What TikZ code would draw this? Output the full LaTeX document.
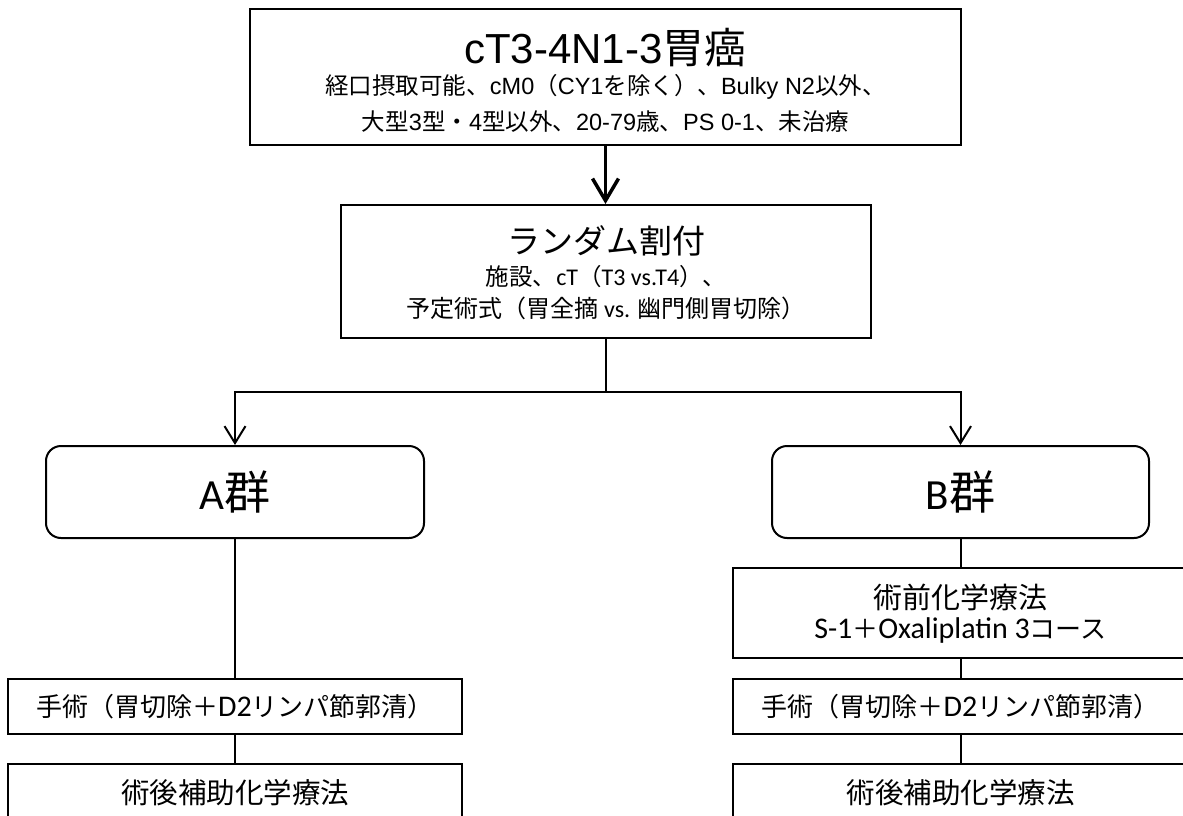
\documentclass[tikz,border=0pt]{standalone}
\usepackage{fontspec}
\setmainfont{Carlito}
\newfontfamily\arialf{Liberation Sans}
\newfontfamily\jpt{Noto Sans CJK JP}
% CJK run at an explicit size: \JS{size}{text}
\newcommand{\JS}[2]{{\fontsize{#1}{#1}\selectfont\jpt #2}}
\newcommand{\JT}[1]{{\jpt #1}}
\usetikzlibrary{arrows.meta}
\begin{document}
\begin{tikzpicture}[x=1pt,y=-1pt,
  box/.style={draw, line width=2pt, rectangle, inner sep=0pt},
  rbox/.style={box, rounded corners=15pt},
  conn/.style={line width=2pt},
  carrow/.style={conn, -{Straight Barb[length=17pt,width=21pt]}},
  bigarrow/.style={line width=3.5pt, -{Straight Barb[length=22pt,width=26pt]}},
  txt/.style={inner sep=0pt, anchor=center}
]
\useasboundingbox (0,0) rectangle (1183,816);
\clip (0,0) rectangle (1183,816);

% boxes
\node[box, minimum width=711pt, minimum height=136pt] (top) at (605.5,77) {};
\node[box, minimum width=530pt, minimum height=133pt] (rand) at (606,271.5) {};
\node[rbox, minimum width=378pt, minimum height=92pt] (A) at (235,492) {};
\node[rbox, minimum width=377pt, minimum height=92pt] (B) at (960.5,492) {};
\node[box, minimum width=454pt, minimum height=55pt] (Asurg) at (235,706.5) {};
\node[box, minimum width=454pt, minimum height=110pt] (Apost) at (235,819) {};
\node[box, minimum width=455pt, minimum height=90pt] (Bpre) at (960.5,613) {};
\node[box, minimum width=455pt, minimum height=55pt] (Bsurg) at (960.5,706.5) {};
\node[box, minimum width=455pt, minimum height=110pt] (Bpost) at (960.5,819) {};

% texts
\node[txt] (topT1) at (605.5,48) {\fontsize{42}{50}\selectfont\arialf cT3-4N1-3\JT{胃癌}};
\node[txt] (topT2) at (605.5,87) {\fontsize{23.5}{28}\selectfont\arialf \JT{経口摂取可能、}cM0\JT{（}CY1\JT{を除く）、}Bulky N2\JT{以外、}};
\node[txt] (topT3) at (605.5,122) {\fontsize{23.5}{28}\selectfont\arialf \JT{大型}3\JT{型・}4\JT{型以外、}20-79\JT{歳、}PS 0-1\JT{、未治療}};

\node[txt] (randT1) at (606,241) {\JS{33}{ランダム割付}};
\node[txt] (randT2) at (606,277) {\fontsize{24}{28}\selectfont\JS{23.5}{施設、}cT\JS{23.5}{（}T3 vs.T4\JS{23.5}{）、}};
\node[txt] (randT3) at (606,308) {\fontsize{24}{28}\selectfont\JS{24}{予定術式（胃全摘} vs. \JS{24}{幽門側胃切除）}};

\node[txt] (AT) at (235,492) {\fontsize{43}{50}\selectfont A\JS{46}{群}};
\node[txt] (BT) at (960.5,492) {\fontsize{43}{50}\selectfont B\JS{46}{群}};

\node[txt] (AsurgT) at (235,707) {\fontsize{30}{34}\selectfont\JS{26}{手術（胃切除＋}D2\JS{26}{リンパ節郭清）}};
\node[txt] (BsurgT) at (960.5,707) {\fontsize{30}{34}\selectfont\JS{26}{手術（胃切除＋}D2\JS{26}{リンパ節郭清）}};
\node[txt] (ApostT) at (235,793) {\JS{28.5}{術後補助化学療法}};
\node[txt] (BpostT) at (960.5,793) {\JS{28.5}{術後補助化学療法}};
\node[txt] (BpreT1) at (960.5,597) {\JS{29}{術前化学療法}};
\node[txt] (BpreT2) at (960.5,630) {\fontsize{30}{34}\selectfont S-1\JS{26}{＋}Oxaliplatin 3\JS{26}{コース}};

% connectors
\draw[bigarrow] (top.south) -- (top.south |- rand.north);
\coordinate (sp) at (606,392);
\draw[conn] (rand.south) -- (sp);
\draw[carrow] (sp) -| (A.north);
\draw[carrow] (sp) -| (B.north);
\draw[conn] (A.south) -- (Asurg.north);
\draw[conn] (Asurg.south) -- (Apost.north);
\draw[conn] (B.south) -- (Bpre.north);
\draw[conn] (Bpre.south) -- (Bsurg.north);
\draw[conn] (Bsurg.south) -- (Bpost.north);
\end{tikzpicture}
\end{document}
